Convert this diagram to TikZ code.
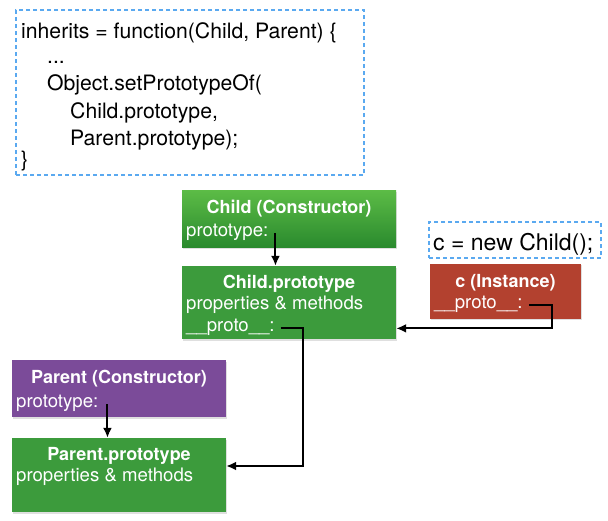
\documentclass[tikz,border=0pt]{standalone}
\usepackage{fontspec}
\setmainfont{TeX Gyre Heros}
\usepackage{xcolor}
\usepackage{tikz}
\usetikzlibrary{positioning, arrows.meta, shadows}

\definecolor{snipblue}{HTML}{5AA9F0}
\definecolor{ctorgreentop}{HTML}{5CBC46}
\definecolor{ctorgreenbot}{HTML}{2A8A2E}
\definecolor{protogreen}{HTML}{3C9B3C}
\definecolor{instred}{HTML}{B3412F}
\definecolor{ctorpurple}{HTML}{7B4B99}

\begin{document}
\begin{tikzpicture}[x=1pt, y=-1pt,
  objbox/.style={minimum width=214pt, inner sep=0pt,
              drop shadow={opacity=0.25, shadow xshift=1pt, shadow yshift=-1.5pt}},
  title/.style={anchor=base, text=white, inner sep=0pt,
              font=\fontsize{18}{21}\selectfont\bfseries},
  field/.style={anchor=base west, text=white, inner sep=0pt,
              font=\fontsize{18.6}{22}\selectfont},
  snippet/.style={draw=snipblue, dash pattern=on 4pt off 3pt, line width=1.8pt,
              inner sep=0pt},
  code/.style={anchor=base west, inner sep=0pt, font=\fontsize{21.2}{25}\selectfont},
  ptr/.style={-{Latex[length=10pt, width=9pt]}, line width=2pt}
]
  \path[fill=white] (0,0) rectangle (608,520);
  \useasboundingbox (0,0) rectangle (608,520);

  % Code snippet
  \node[snippet, minimum width=348pt, minimum height=165pt] (inheritsbox) at (190,92.5) {};
  \node[code] (code1) at (21,38)  {inherits = function(Child, Parent) \{};
  \node[code] (code2) at (47,63)  {...};
  \node[code] (code3) at (47,90)  {Object.setPrototypeOf(};
  \node[code] (code4) at (70,118) {Child.prototype,};
  \node[code] (code5) at (70,145) {Parent.prototype);};
  \node[code] (code6) at (21,166) {\}};

  \node[snippet, minimum width=172pt, minimum height=36pt] (newbox) at (515,240) {};
  \node[code, font=\fontsize{23}{27}\selectfont] (newcode) at (433,250) {c = new Child();};

  % Objects
  \node[objbox, minimum height=57pt, top color=ctorgreentop, bottom color=ctorgreenbot]
    (childctor) at (289,218.5) {};
  \node[title] (childctortitle) at (289,213) {Child (Constructor)};
  \node[field] (childctorfield) at (186,236) {prototype:};

  \node[objbox, minimum height=73pt, fill=protogreen] (childproto) at (289,302.5) {};
  \node[title] (childprototitle) at (289,288) {Child.prototype};
  \node[field] (childprotomembers) at (186,309) {properties \& methods};
  \node[field] (childprotofield) at (186,331) {\_\_proto\_\_:};

  \node[objbox, minimum width=151pt, minimum height=55pt, fill=instred] (inst) at (505.5,291) {};
  \node[title] (insttitle) at (505.5,287) {c (Instance)};
  \node[field] (instfield) at (434,308) {\_\_proto\_\_:};

  \node[objbox, minimum height=57pt, fill=ctorpurple] (parentctor) at (119,388.5) {};
  \node[title] (parentctortitle) at (119,383) {Parent (Constructor)};
  \node[field] (parentctorfield) at (16,407) {prototype:};

  \node[objbox, minimum height=74pt, fill=protogreen] (parentproto) at (119,475) {};
  \node[title] (parentprototitle) at (119,460) {Parent.prototype};
  \node[field] (parentprotomembers) at (16,481) {properties \& methods};

  % Pointers
  \draw[ptr] ([xshift=7pt]childctorfield.mid east)
    -- ([xshift=7pt]childctorfield.mid east |- childproto.north);
  \draw[ptr] ([xshift=9pt]parentctorfield.mid east)
    -- ([xshift=9pt]parentctorfield.mid east |- parentproto.north);
  \draw[ptr] ([xshift=6pt]instfield.mid east) -- ++(23,0)
    |- (childprotofield.mid -| childproto.east);
  \draw[ptr] ([xshift=6pt]childprotofield.mid east) -- ++(22,0)
    |- ([yshift=9pt]parentproto.east);

\end{tikzpicture}
\end{document}
